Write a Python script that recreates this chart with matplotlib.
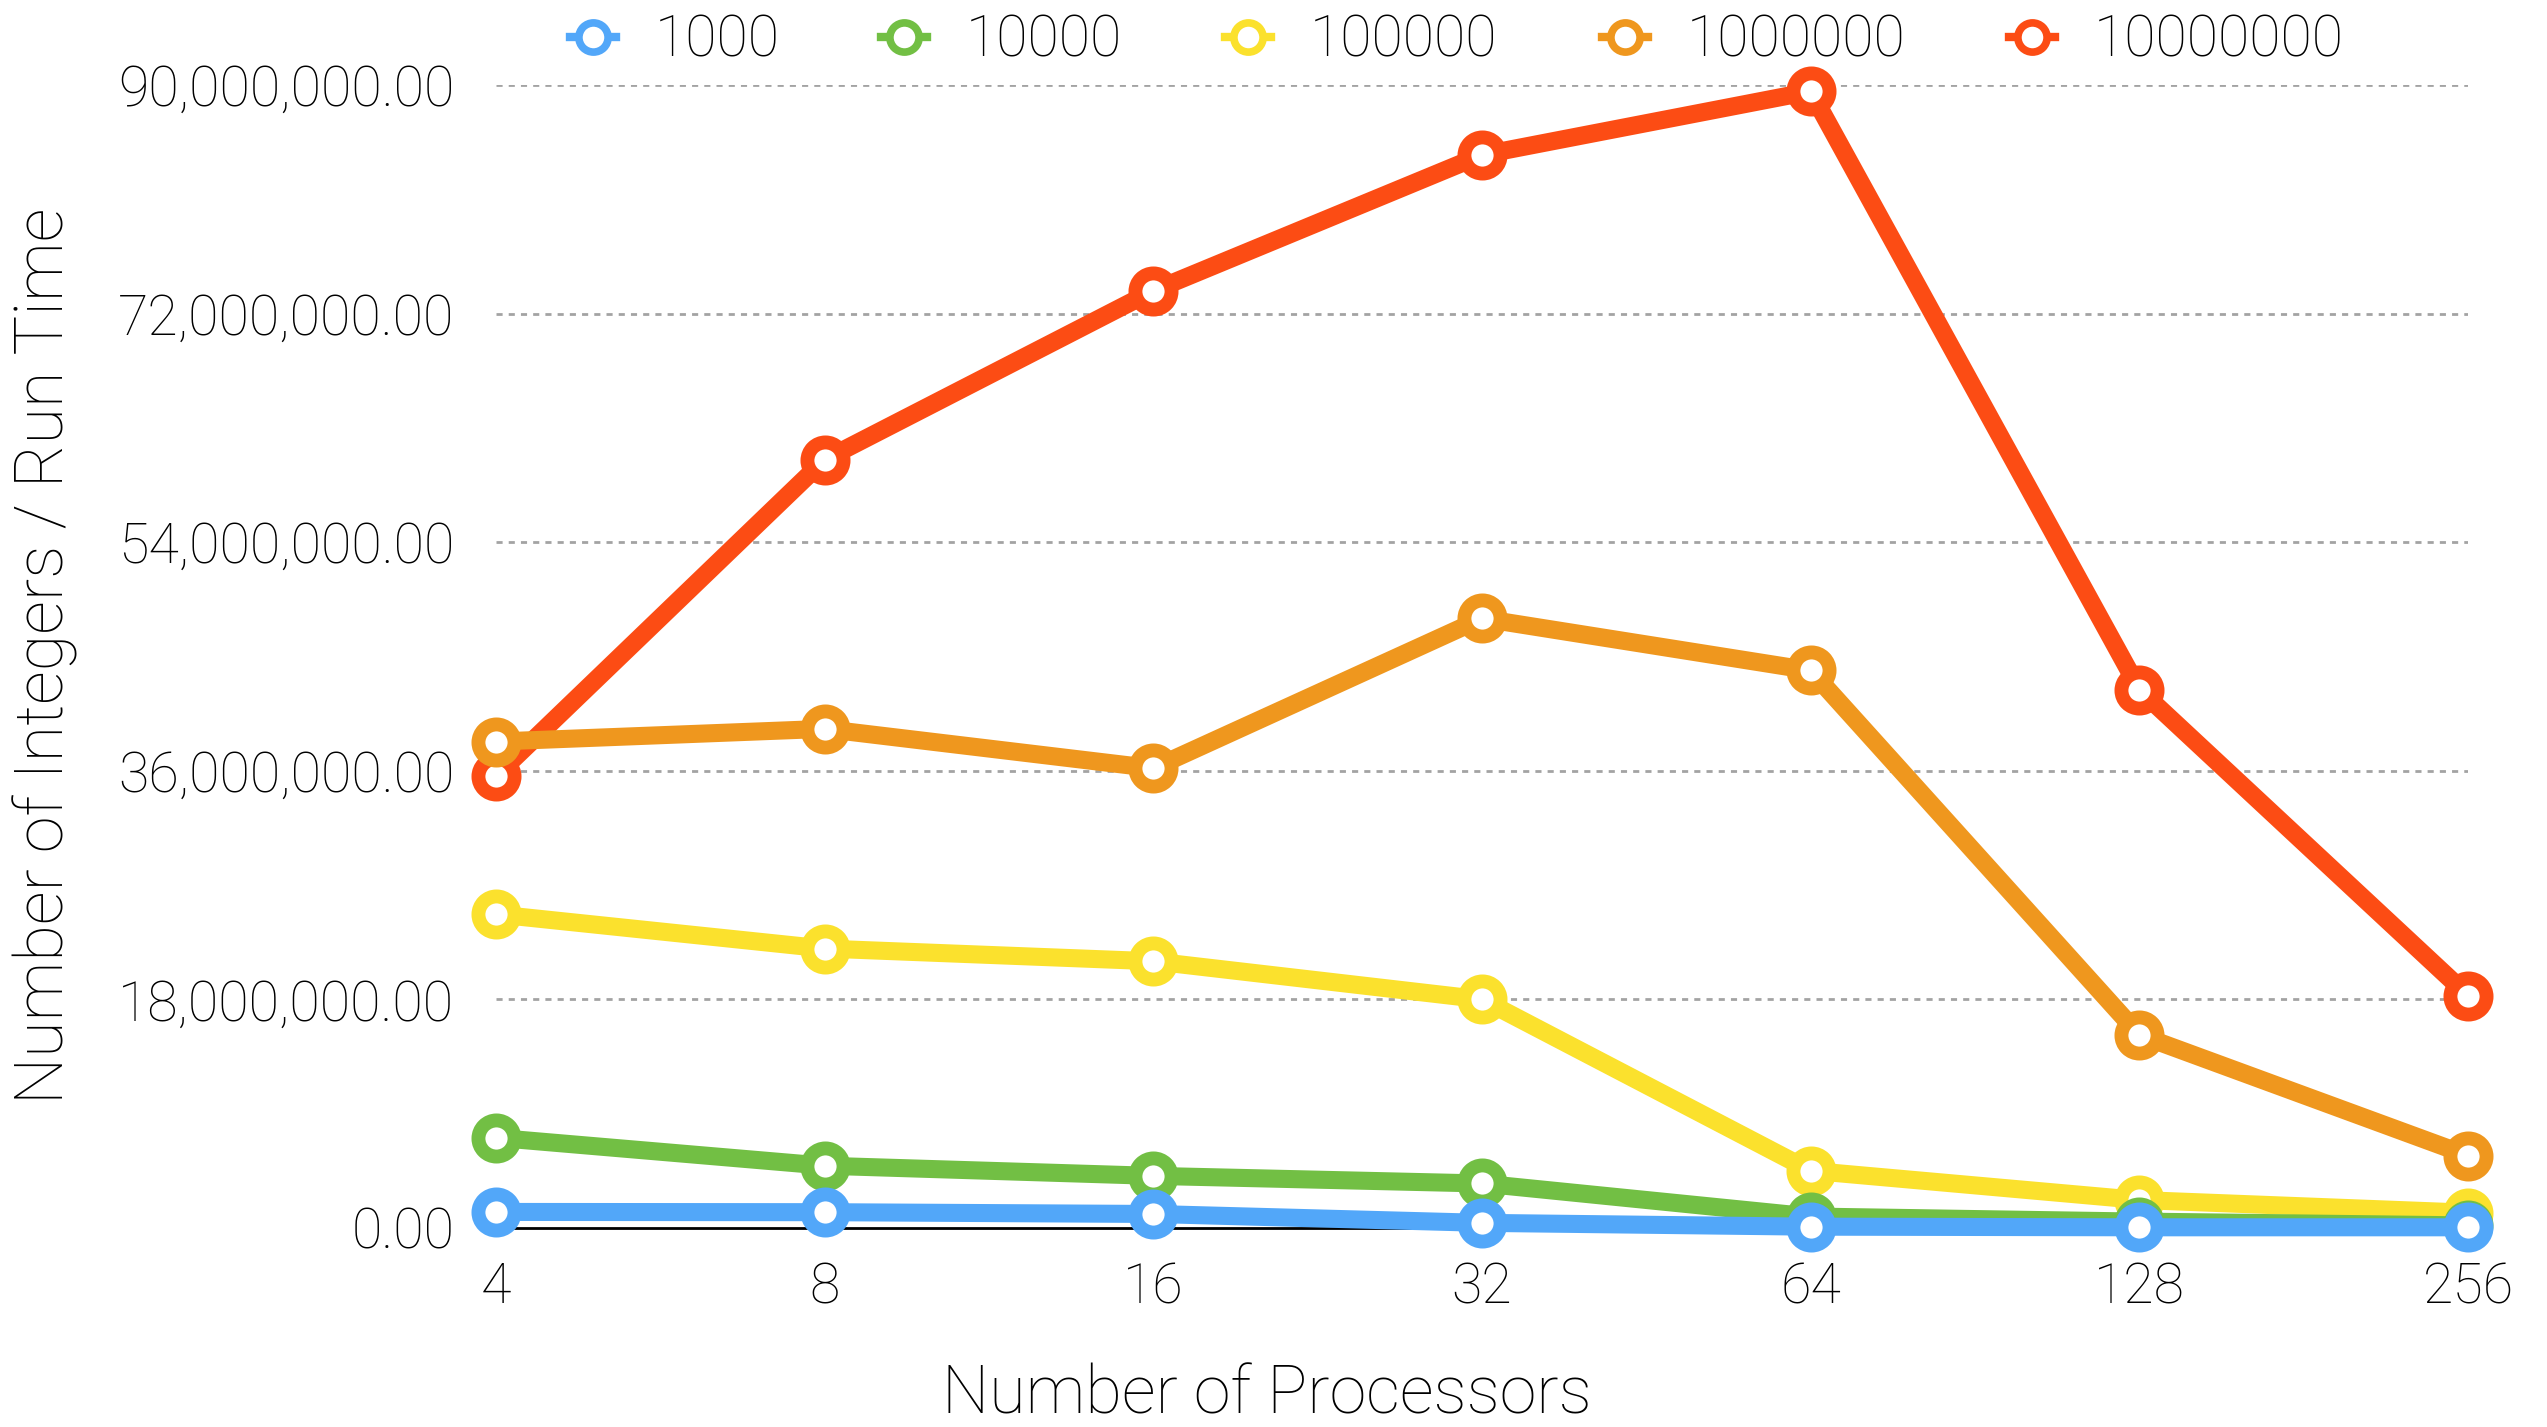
import matplotlib
matplotlib.use("Agg")
import matplotlib.pyplot as plt
from matplotlib.lines import Line2D
from matplotlib.ticker import FuncFormatter, MultipleLocator

# Throughput (integers per second of run time) by processor count, one series per problem size
processors = ["4", "8", "16", "32", "64", "128", "256"]
series_names = ["1000", "10000", "100000", "1000000", "10000000"]
rate_1000 = [1.26e6, 1.24e6, 1.10e6, 0.40e6, 0.10e6, 0.05e6, 0.05e6]
rate_10000 = [7.1e6, 4.9e6, 4.1e6, 3.5e6, 0.9e6, 0.5e6, 0.2e6]
rate_100000 = [24.7e6, 22.0e6, 21.0e6, 18.0e6, 4.5e6, 2.2e6, 1.2e6]
rate_1000000 = [38.3e6, 39.3e6, 36.2e6, 48.0e6, 43.9e6, 15.2e6, 5.7e6]
rate_10000000 = [35.6e6, 60.5e6, 73.8e6, 84.5e6, 89.5e6, 42.4e6, 18.3e6]
series_values = [rate_1000, rate_10000, rate_100000, rate_1000000, rate_10000000]
colors = ["#52A7F9", "#72BF44", "#FBE12D", "#EF971E", "#FC4C14"]

plt.rcParams["font.family"] = ["Roboto", "Liberation Sans", "DejaVu Sans"]
plt.rcParams["font.weight"] = "light"
plt.rcParams["text.color"] = "black"

W, H = 2547, 1427
fig = plt.figure(figsize=(W / 100, H / 100), dpi=100)
ax = fig.add_axes([0.1947, 0.1395, 0.7743, 0.8009])

xpos = list(range(len(processors)))
# largest problem size at the bottom, smallest on top
for i in reversed(range(len(series_names))):
    ax.plot(xpos, series_values[i], color=colors[i], lw=13,
            marker="o", ms=26, mfc="white", mec=colors[i], mew=10,
            solid_capstyle="butt", clip_on=False, zorder=3 + (len(series_names) - i))

ax.set_xlim(0, len(processors) - 1)
ax.set_ylim(0, 90e6)
ax.set_xticks(xpos)
ax.set_xticklabels(processors)
ax.yaxis.set_major_locator(MultipleLocator(18e6))
ax.yaxis.set_major_formatter(FuncFormatter(lambda v, p: f"{v:,.2f}"))

for y in range(1, 6):
    ax.axhline(y * 18e6, color="#a3a3a3", lw=2, dashes=(2.2, 2.2), zorder=1)

for side in ["top", "right", "left"]:
    ax.spines[side].set_visible(False)
ax.spines["bottom"].set_color("black")
ax.spines["bottom"].set_linewidth(2)
ax.spines["bottom"].set_zorder(2)

ax.tick_params(axis="both", length=0, labelsize=40, colors="black")
ax.tick_params(axis="x", pad=24)
ax.tick_params(axis="y", pad=30)
for lab in ax.get_xticklabels() + ax.get_yticklabels():
    lab.set_fontweight("light")

fig.text(1267 / W, 1 - 1395 / H, "Number of Processors", fontsize=48,
         fontweight="light", ha="center", va="center")
fig.text(45 / W, 1 - 656 / H, "Number of Integers / Run Time", fontsize=48,
         fontweight="light", ha="center", va="center", rotation=90)

# one legend entry per series, spread along the top
legend_fs = 41
handle_len = 0.8
marker_x = [593, 904, 1248, 1625, 2032]
half_handle_px = handle_len * legend_fs * 100 / 72 / 2
for name, c, mx in zip(series_names, colors, marker_x):
    h = Line2D([0], [0], color=c, lw=6, marker="o", ms=21, mfc="white",
               mec=c, mew=5.5)
    leg = fig.legend([h], [name], loc="center left", frameon=False,
                     bbox_to_anchor=((mx - half_handle_px) / W, 1 - 41 / H),
                     fontsize=legend_fs, borderpad=0, borderaxespad=0,
                     handlelength=handle_len, handletextpad=0.68)
    for t in leg.get_texts():
        t.set_fontweight("light")

fig.savefig("out.png", dpi=100, facecolor="white")
